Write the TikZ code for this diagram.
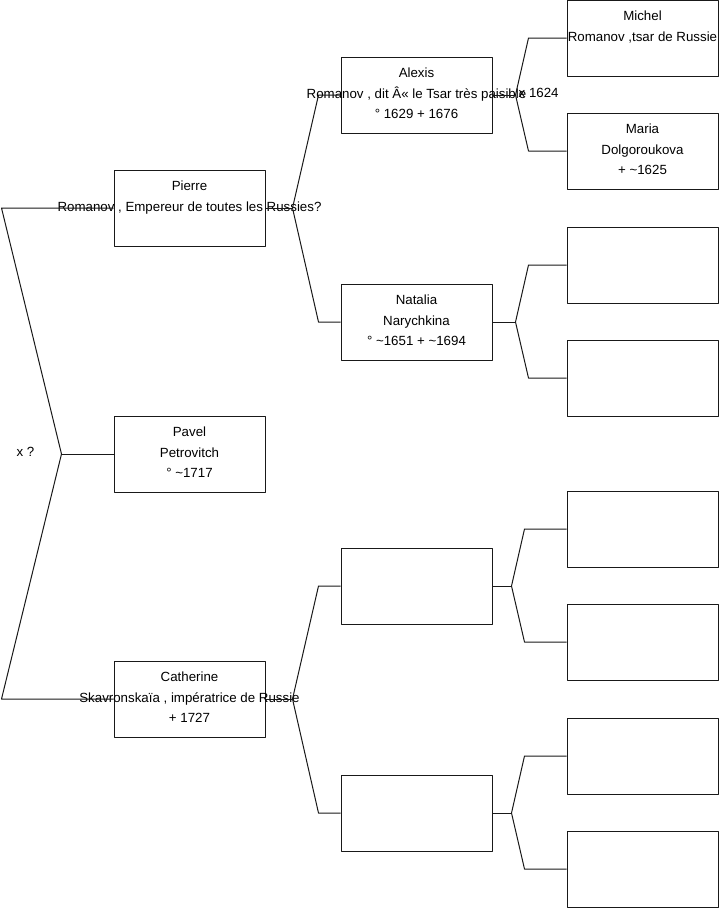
\documentclass[tikz,border=0pt]{standalone}
\usepackage{fontspec}
\setmainfont{Liberation Sans}

\tikzset{
  personne/.style={draw=black!90, line width=1pt, minimum width=151pt, minimum height=76pt, inner sep=0pt},
  nom/.style={anchor=north, align=center, inner sep=0pt, font=\fontsize{13.3}{20.5}\selectfont},
  mariage/.style={inner sep=0pt, font=\fontsize{13.3}{20.5}\selectfont},
  lien/.style={draw=black!90, line width=1pt}
}

\begin{document}
\begin{tikzpicture}[x=1pt, y=-1pt, line join=round]
\useasboundingbox (0,0) rectangle (719,908);

% Colonne 1
\node[personne] (pierre) at (189.5,208) {};
\node[personne] (pavel) at (189.5,454) {};
\node[personne] (catherine) at (189.5,699) {};

% Colonne 2
\node[personne] (alexis) at (416.5,95) {};
\node[personne] (natalia) at (416.5,322) {};
\node[personne] (pcat) at (416.5,586) {};
\node[personne] (mcat) at (416.5,813) {};

% Colonne 3
\node[personne] (michel) at (642.5,38) {};
\node[personne] (maria) at (642.5,151) {};
\node[personne] (pnat) at (642.5,265) {};
\node[personne] (mnat) at (642.5,378) {};
\node[personne] (ppcat) at (642.5,529) {};
\node[personne] (mpcat) at (642.5,642) {};
\node[personne] (pmcat) at (642.5,756) {};
\node[personne] (mmcat) at (642.5,869) {};

% Noms
\node[nom] (tpierre) at ([yshift=-11.5pt]pierre.north) {Pierre\\Romanov , Empereur de toutes les Russies?};
\node[nom] (tpavel) at ([yshift=-11.5pt]pavel.north) {Pavel\\Petrovitch\\° \textasciitilde1717};
\node[nom] (tcatherine) at ([yshift=-11.5pt]catherine.north) {Catherine\\Skavronskaïa , impératrice de Russie\\+ 1727};
\node[nom] (talexis) at ([yshift=-11.5pt]alexis.north) {Alexis\\Romanov , dit Â« le Tsar très paisible\\° 1629 + 1676};
\node[nom] (tnatalia) at ([yshift=-11.5pt]natalia.north) {Natalia\\Narychkina\\° \textasciitilde1651 + \textasciitilde1694};
\node[nom] (tmichel) at ([yshift=-11.5pt]michel.north) {Michel\\Romanov ,tsar de Russie};
\node[nom] (tmaria) at ([yshift=-11.5pt]maria.north) {Maria\\Dolgoroukova\\+ \textasciitilde1625};

% Racine
\coordinate (ra) at ([xshift=-112pt]pierre.west);
\coordinate (rm) at ([xshift=-52pt]pavel.west);
\coordinate (rb) at ([xshift=-112pt]catherine.west);
\draw[lien] (pierre.west) -- (ra) -- (rm) -- (rb) -- (catherine.west);
\draw[lien] (rm) -- (pavel.west);
\node[mariage, anchor=base east] (mroot) at ([xshift=-27pt, yshift=-2pt]rm) {x ?};

% Parents de Pierre
\coordinate (jpierre) at ([xshift=27pt]pierre.east);
\draw[lien] (pierre.east) -- (jpierre);
\draw[lien] (jpierre) -- ([xshift=-22pt]alexis.west) -- (alexis.west);
\draw[lien] (jpierre) -- ([xshift=-22pt]natalia.west) -- (natalia.west);

% Parents de Catherine
\coordinate (jcatherine) at ([xshift=27pt]catherine.east);
\draw[lien] (catherine.east) -- (jcatherine);
\draw[lien] (jcatherine) -- ([xshift=-22pt]pcat.west) -- (pcat.west);
\draw[lien] (jcatherine) -- ([xshift=-22pt]mcat.west) -- (mcat.west);

% Parents d'Alexis
\coordinate (jalexis) at ([xshift=23pt]alexis.east);
\draw[lien] (alexis.east) -- (jalexis);
\draw[lien] (jalexis) -- ([xshift=-38pt]michel.west) -- (michel.west);
\draw[lien] (jalexis) -- ([xshift=-38pt]maria.west) -- (maria.west);
\node[mariage, anchor=base west] (malexis) at ([xshift=3pt, yshift=-2pt]jalexis) {x 1624};

% Parents de Natalia
\coordinate (jnatalia) at ([xshift=23pt]natalia.east);
\draw[lien] (natalia.east) -- (jnatalia);
\draw[lien] (jnatalia) -- ([xshift=-38pt]pnat.west) -- (pnat.west);
\draw[lien] (jnatalia) -- ([xshift=-38pt]mnat.west) -- (mnat.west);

% Grands-parents de Catherine
\coordinate (jpcat) at ([xshift=19pt]pcat.east);
\draw[lien] (pcat.east) -- (jpcat);
\draw[lien] (jpcat) -- ([xshift=-42pt]ppcat.west) -- (ppcat.west);
\draw[lien] (jpcat) -- ([xshift=-42pt]mpcat.west) -- (mpcat.west);

\coordinate (jmcat) at ([xshift=19pt]mcat.east);
\draw[lien] (mcat.east) -- (jmcat);
\draw[lien] (jmcat) -- ([xshift=-42pt]pmcat.west) -- (pmcat.west);
\draw[lien] (jmcat) -- ([xshift=-42pt]mmcat.west) -- (mmcat.west);

\end{tikzpicture}
\end{document}
